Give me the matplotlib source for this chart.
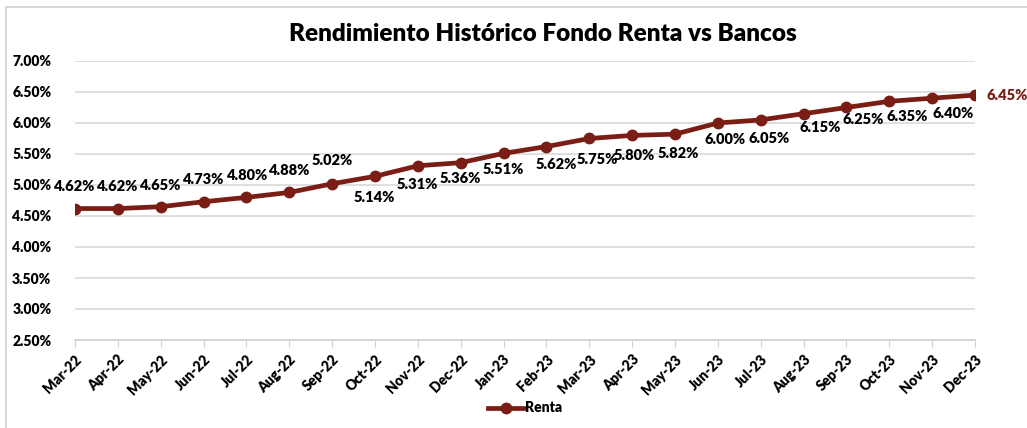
import matplotlib
matplotlib.use('Agg')
import matplotlib.pyplot as plt
from matplotlib.lines import Line2D
from matplotlib.ticker import FuncFormatter, MultipleLocator

plt.rcParams['font.family'] = ['Lato', 'DejaVu Sans']

months = ['Mar-22', 'Apr-22', 'May-22', 'Jun-22', 'Jul-22', 'Aug-22', 'Sep-22',
          'Oct-22', 'Nov-22', 'Dec-22', 'Jan-23', 'Feb-23', 'Mar-23', 'Apr-23',
          'May-23', 'Jun-23', 'Jul-23', 'Aug-23', 'Sep-23', 'Oct-23', 'Nov-23',
          'Dec-23']
renta = [4.62, 4.62, 4.65, 4.73, 4.80, 4.88, 5.02, 5.14, 5.31, 5.36, 5.51,
         5.62, 5.75, 5.80, 5.82, 6.00, 6.05, 6.15, 6.25, 6.35, 6.40, 6.45]

# label offsets in pixels (dx, dy up)
label_off = [(-1, 22), (-1, 22), (-1, 21), (-1, 22), (0, 22), (-1, 22), (0, 23),
             (-1, -21), (-1, -19), (0, -16), (0, -16), (10, -18), (8, -21),
             (2, -20), (3, -19), (7, -17), (8, -19), (17, -14), (17, -12),
             (18, -15), (21, -15)]

color = '#7a1d14'
W, H = 1027, 428
fig = plt.figure(figsize=(W / 100, H / 100), dpi=100)
ax = fig.add_axes([75 / W, 1 - 340 / H, 900 / W, 279 / H])

x = list(range(len(months)))
ax.plot(x, renta, color=color, lw=3.4, marker='o', ms=7.5, solid_capstyle='round')

px = 72 / 100
for i, (v, (dx, dy)) in enumerate(zip(renta[:-1], label_off)):
    ax.annotate(f'{v:.2f}%', (i, v), xytext=(dx * px, dy * px), textcoords='offset points',
                ha='center', va='center', fontsize=10.5, fontweight='heavy', color='black')
ax.annotate(f'{renta[-1]:.2f}%', (x[-1], renta[-1]), xytext=(12 * px, 0), textcoords='offset points',
            ha='left', va='center', fontsize=10.5, fontweight='heavy', color=color,
            annotation_clip=False)

ax.set_xlim(0, len(months) - 1)
ax.set_ylim(2.5, 7.0)
ax.yaxis.set_major_locator(MultipleLocator(0.5))
ax.yaxis.set_major_formatter(FuncFormatter(lambda v, p: f'{v:.2f}%'))
ax.set_xticks(x)
ax.set_xticklabels(months, rotation=45, ha='right', rotation_mode='anchor')
for lab in ax.get_xticklabels() + ax.get_yticklabels():
    lab.set_fontweight('heavy')
    lab.set_fontsize(10)
ax.tick_params(axis='y', length=0, pad=17)
ax.tick_params(axis='x', length=5, color='#d0d0d0', pad=4)
ax.grid(axis='y', color='#d9d9d9', lw=1.2)
ax.set_axisbelow(True)
for s in ['top', 'right', 'left']:
    ax.spines[s].set_visible(False)
ax.spines['bottom'].set_color('#d0d0d0')
ax.spines['bottom'].set_linewidth(1.2)

fig.text(543 / W, 1 - 34 / H, 'Rendimiento Histórico Fondo Renta vs Bancos',
         ha='center', va='center', fontsize=17.5, fontweight='heavy')

handle = Line2D([], [], color=color, lw=3.4, marker='o', ms=7.5)
fig.legend([handle], ['Renta'], loc='center', bbox_to_anchor=(525 / W, 1 - 408 / H),
           frameon=False, prop={'weight': 'heavy', 'size': 10}, handlelength=2.6,
           handletextpad=0.1)

# chart area border (top and left edges visible)
fig.add_artist(Line2D([6 / W, 1], [1 - 7 / H, 1 - 7 / H], color='#d9d9d9', lw=1.5))
fig.add_artist(Line2D([6 / W, 6 / W], [0, 1 - 7 / H], color='#d9d9d9', lw=1.5))

fig.savefig('out.png', dpi=100)
